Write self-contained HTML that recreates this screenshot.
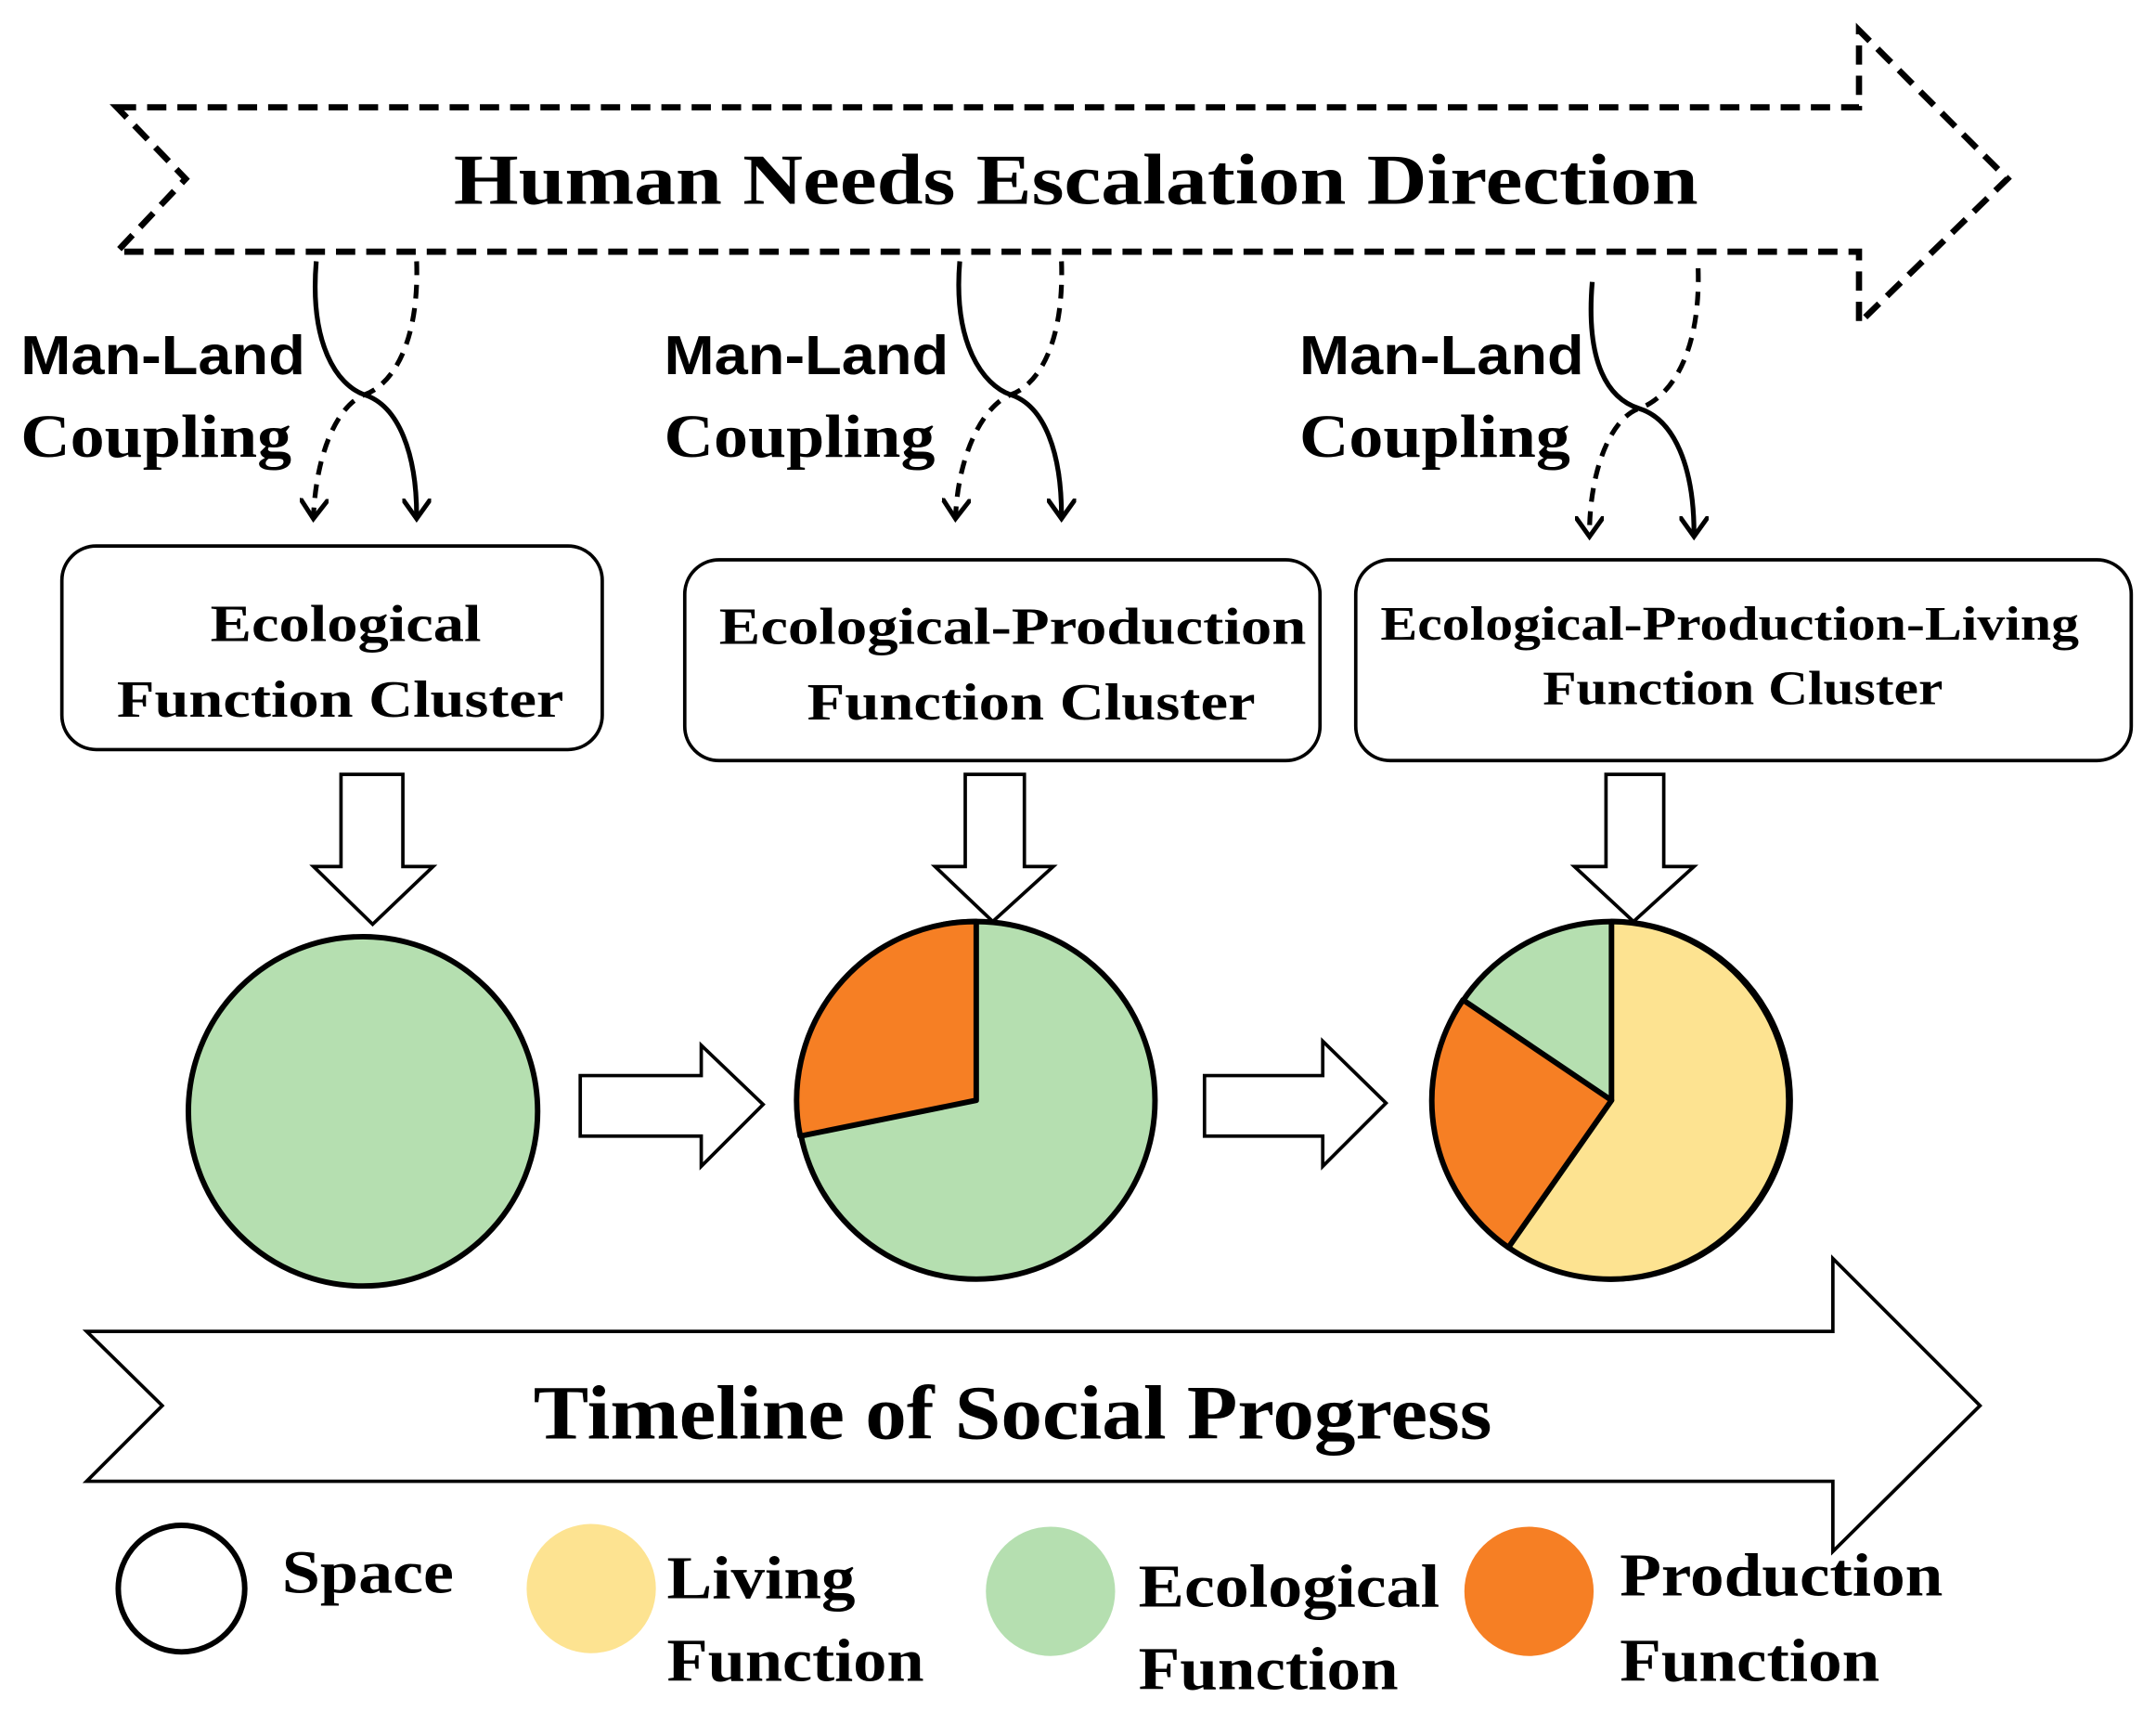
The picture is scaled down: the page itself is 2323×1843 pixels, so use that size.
<!DOCTYPE html>
<html><head><meta charset="utf-8"><style>html,body{margin:0;padding:0;background:#fff}svg{display:block}</style></head>
<body>
<svg width="2323" height="1843" viewBox="0 0 1568 1244" xmlns="http://www.w3.org/2000/svg">
<defs>
<marker id="ah" viewBox="0 0 10 10" refX="6" refY="5" markerWidth="6" markerHeight="6" orient="auto"><path d="M0,0 L7,5 L0,10" fill="none" stroke="#000" stroke-width="1.6"/></marker>
</defs>
<g font-family="Liberation Serif, serif" font-weight="bold" fill="#000">
<polygon points="85,78 1352,78 1352,22 1460,130 1352,235 1352,183 85,183 135,130" fill="none" stroke="#000" stroke-width="4.5" stroke-dasharray="14,8"/>
<text x="330" y="148" font-size="52" textLength="905" lengthAdjust="spacingAndGlyphs">Human Needs Escalation Direction</text>

<g fill="none" stroke="#000" stroke-width="3.5">
<path d="M230,190 C225,250 245,280 265,287 C290,295 303,330 303,375" marker-end="url(#ah)"/>
<path d="M303,190 C305,250 285,280 265,287 C245,295 230,330 228,375" stroke-dasharray="10,7" marker-end="url(#ah)"/>
<path d="M698,190 C693,250 715,280 735,287 C760,295 772,330 772,375" marker-end="url(#ah)"/>
<path d="M772,190 C774,250 755,280 735,287 C715,295 697,330 695,375" stroke-dasharray="10,7" marker-end="url(#ah)"/>
<path d="M1158,205 C1153,265 1170,290 1192,297 C1218,305 1232,340 1232,388" marker-end="url(#ah)"/>
<path d="M1235,195 C1237,260 1213,290 1192,297 C1170,305 1156,345 1156,388" stroke-dasharray="10,7" marker-end="url(#ah)"/>
</g>
<g font-family="Liberation Sans, sans-serif" font-size="40">
<text x="15" y="272" textLength="207" lengthAdjust="spacingAndGlyphs">Man-Land</text>
<text x="483" y="272" textLength="207" lengthAdjust="spacingAndGlyphs">Man-Land</text>
<text x="945" y="272" textLength="207" lengthAdjust="spacingAndGlyphs">Man-Land</text>
</g>
<g font-size="44">
<text x="15" y="332" textLength="197" lengthAdjust="spacingAndGlyphs">Coupling</text>
<text x="483" y="332" textLength="197" lengthAdjust="spacingAndGlyphs">Coupling</text>
<text x="945" y="332" textLength="197" lengthAdjust="spacingAndGlyphs">Coupling</text>
</g>

<g fill="#fff" stroke="#000" stroke-width="2.5">
<rect x="45" y="397" width="393" height="148" rx="25"/>
<rect x="498" y="407" width="462" height="146" rx="25"/>
<rect x="986" y="407" width="564" height="146" rx="25"/>
</g>
<g font-size="38">
<text x="153" y="466" textLength="197" lengthAdjust="spacingAndGlyphs">Ecological</text>
<text x="85" y="521" textLength="325" lengthAdjust="spacingAndGlyphs">Function Cluster</text>
<text x="523" y="468" textLength="427" lengthAdjust="spacingAndGlyphs">Ecological-Production</text>
<text x="587" y="523" textLength="326" lengthAdjust="spacingAndGlyphs">Function Cluster</text>
</g>
<g font-size="35">
<text x="1004" y="465" textLength="508" lengthAdjust="spacingAndGlyphs">Ecological-Production-Living</text>
<text x="1122" y="512" textLength="291" lengthAdjust="spacingAndGlyphs">Function Cluster</text>
</g>

<g fill="#fff" stroke="#000" stroke-width="2.5">
<polygon points="248,563 293,563 293,630 315,630 271,672 228,630 248,630"/>
<polygon points="702,563 745,563 745,630 766,630 722,670 680,630 702,630"/>
<polygon points="1168,563 1210,563 1210,630 1232,630 1188,670 1145,630 1168,630"/>
<polygon points="422,782 510,782 510,760 555,803 510,848 510,826 422,826"/>
<polygon points="876,782 962,782 962,757 1008,802 962,848 962,826 876,826"/>
</g>

<circle cx="264" cy="808" r="127" fill="#b5dfb0" stroke="#000" stroke-width="4"/>
<circle cx="710" cy="800" r="130" fill="#b5dfb0" stroke="#000" stroke-width="4"/>
<path d="M710,800 L710,670 A130,130 0 0 0 582,826 Z" fill="#f67f24" stroke="#000" stroke-width="4" stroke-linejoin="round"/>
<circle cx="1172" cy="800" r="130" fill="#b5dfb0" stroke="#000" stroke-width="4"/>
<path d="M1172,800 L1172,670 A130,130 0 1 1 1097,907 Z" fill="#fde391" stroke="#000" stroke-width="4" stroke-linejoin="round"/>
<path d="M1172,800 L1097,907 A130,130 0 0 1 1064,727 Z" fill="#f67f24" stroke="#000" stroke-width="4" stroke-linejoin="round"/>

<polygon points="63,968 1333,968 1333,915 1440,1022 1333,1128 1333,1077 63,1077 118,1022" fill="#fff" stroke="#000" stroke-width="2.5"/>
<text x="388" y="1046" font-size="56" textLength="697" lengthAdjust="spacingAndGlyphs">Timeline of Social Progress</text>

<circle cx="132" cy="1155" r="46" fill="#fff" stroke="#000" stroke-width="4"/>
<circle cx="430" cy="1155" r="47" fill="#fde391"/>
<circle cx="764" cy="1157" r="47" fill="#b5dfb0"/>
<circle cx="1112" cy="1157" r="47" fill="#f67f24"/>
<g font-size="44">
<text x="205" y="1158" textLength="125" lengthAdjust="spacingAndGlyphs">Space</text>
<text x="485" y="1162" textLength="137" lengthAdjust="spacingAndGlyphs">Living</text>
<text x="485" y="1222" textLength="187" lengthAdjust="spacingAndGlyphs">Function</text>
<text x="828" y="1168" textLength="219" lengthAdjust="spacingAndGlyphs">Ecological</text>
<text x="828" y="1228" textLength="189" lengthAdjust="spacingAndGlyphs">Function</text>
<text x="1178" y="1160" textLength="235" lengthAdjust="spacingAndGlyphs">Production</text>
<text x="1178" y="1222" textLength="189" lengthAdjust="spacingAndGlyphs">Function</text>
</g>
</g>
</svg>
</body></html>
